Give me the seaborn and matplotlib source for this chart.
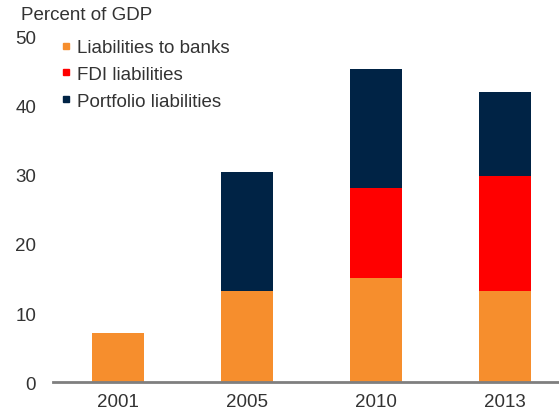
import seaborn as sns
import matplotlib.pyplot as plt
from matplotlib.lines import Line2D
import pandas as pd

# Colours
ORANGE = "#F68E2D"
RED = "#FF0000"
NAVY = "#002345"
AXIS_GREY = "#7F7F7F"
TEXT = "#333333"

# Data (percent of GDP)
years = ["2001", "2005", "2010", "2013"]
banks = [7.1, 13.2, 15.1, 13.2]
fdi = [0.0, 0.0, 13.0, 16.6]
portfolio = [0.0, 17.2, 17.2, 12.1]
series_names = ["Liabilities to banks", "FDI liabilities", "Portfolio liabilities"]

df = pd.DataFrame({"year": years, "banks": banks, "fdi": fdi, "portfolio": portfolio})
df["base_port"] = df["banks"] + df["fdi"]

sns.set_style("white")
plt.rcParams["font.family"] = ["Liberation Sans", "DejaVu Sans"]
FS = 13.5

fig = plt.figure(figsize=(5.59, 4.14), dpi=100)
ax = fig.add_axes([0.0957, 0.074, 0.9043, 0.836])

bw = 0.406
bar_kw = dict(width=bw, saturation=1, linewidth=0, ax=ax)
sns.barplot(data=df, x="year", y="banks", color=ORANGE, **bar_kw)
sns.barplot(data=df, x="year", y="fdi", bottom=df["banks"], color=RED, **bar_kw)
sns.barplot(data=df, x="year", y="portfolio", bottom=df["base_port"], color=NAVY, **bar_kw)

ax.set_ylim(0, 50)
ax.set_xlim(-0.5, 3.42)
ax.set_yticks([0, 10, 20, 30, 40, 50])
ax.set_xlabel("")
ax.set_ylabel("")
for s in ["top", "right", "left"]:
    ax.spines[s].set_visible(False)
ax.spines["bottom"].set_color(AXIS_GREY)
ax.spines["bottom"].set_linewidth(2)
ax.tick_params(axis="both", length=0, labelsize=FS, colors=TEXT)
ax.tick_params(axis="x", pad=8)
ax.tick_params(axis="y", pad=12.5)

fig.text(0.037, 0.963, "Percent of GDP", fontsize=FS, color=TEXT, va="center", ha="left")

handles = [Line2D([], [], marker="s", linestyle="none", markersize=5, color=c)
           for c in [ORANGE, RED, NAVY]]
leg = ax.legend(handles, series_names, loc="upper left", bbox_to_anchor=(0.0137, 0.992),
                frameon=False, fontsize=FS, handlelength=0.6, handletextpad=0.3,
                labelspacing=0.52, borderaxespad=0, borderpad=0)
for t in leg.get_texts():
    t.set_color(TEXT)

fig.savefig("out.png", dpi=100)
